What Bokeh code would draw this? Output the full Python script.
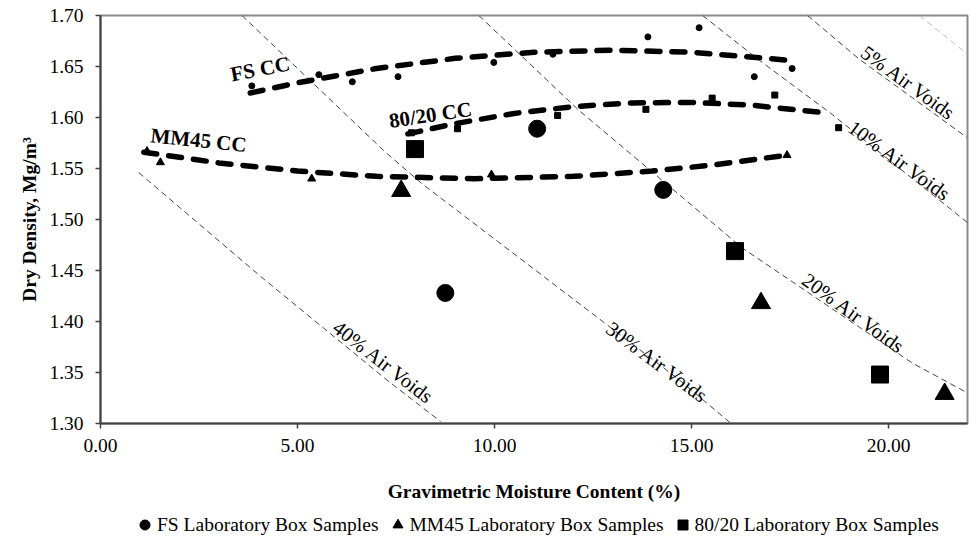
from bokeh.plotting import figure
from bokeh.layouts import column
from bokeh.models import Range1d, FixedTicker, NumeralTickFormatter, Legend, LegendItem
from bokeh.core.properties import value
from bokeh.embed import file_html
from bokeh.resources import INLINE

FONT = "Liberation Serif"

# ---------------- data ----------------
x_ticks = [0, 5, 10, 15, 20]
y_ticks = [1.30, 1.35, 1.40, 1.45, 1.50, 1.55, 1.60, 1.65, 1.70]

legend_labels = ["FS Laboratory Box Samples", "MM45 Laboratory Box Samples", "80/20 Laboratory Box Samples"]

# laboratory box samples
fs_box_w = [8.75, 11.08, 14.28]
fs_box_d = [1.428, 1.589, 1.529]
mm45_box_w = [7.63, 16.76, 21.42]
mm45_box_d = [1.528, 1.418, 1.329]
r8020_box_w = [7.98, 16.10, 19.78]
r8020_box_d = [1.569, 1.469, 1.348]

# compaction curve test points
fs_cc_w = [3.84, 5.54, 6.39, 7.55, 9.98, 11.48, 13.89, 15.19, 16.59, 17.55]
fs_cc_d = [1.631, 1.642, 1.635, 1.640, 1.654, 1.662, 1.679, 1.688, 1.640, 1.648]
mm45_cc_w = [1.18, 1.52, 5.36, 9.92, 17.42]
mm45_cc_d = [1.567, 1.556, 1.540, 1.544, 1.563]
r8020_cc_w = [7.89, 9.06, 11.60, 13.84, 15.52, 17.11, 18.73]
r8020_cc_d = [1.585, 1.589, 1.602, 1.608, 1.619, 1.622, 1.590]

# compaction curves (trend lines)
fs_curve_w = [3.8, 5.0, 7.0, 9.0, 11.0, 13.0, 15.0, 17.5]
fs_curve_d = [1.624, 1.634, 1.648, 1.658, 1.664, 1.666, 1.664, 1.656]
mm45_curve_w = [1.1, 3.0, 5.0, 7.0, 9.5, 12.0, 14.0, 15.5, 17.4]
mm45_curve_d = [1.566, 1.5555, 1.5475, 1.5423, 1.540, 1.5423, 1.5475, 1.5532, 1.563]
r8020_curve_w = [7.8, 9.0, 10.5, 12.0, 13.5, 15.0, 16.5, 18.4]
r8020_curve_d = [1.584, 1.594, 1.604, 1.6107, 1.6143, 1.6148, 1.6122, 1.6045]

# air voids lines
av0_w = [20.78, 22.0]
av0_d = [1.700, 1.662]
av5_w = [17.94, 19.26, 22.0]
av5_d = [1.700, 1.657, 1.580]
av10_w = [15.28, 16.72, 18.50, 22.0]
av10_d = [1.700, 1.656, 1.605, 1.497]
av20_w = [9.60, 12.14, 14.51, 16.29, 20.61, 22.0]
av20_d = [1.700, 1.607, 1.530, 1.472, 1.359, 1.330]
av30_w = [3.59, 7.23, 8.16, 14.68, 16.0]
av30_d = [1.700, 1.566, 1.535, 1.343, 1.300]
av40_w = [0.97, 4.10, 7.32, 8.63]
av40_d = [1.546, 1.443, 1.341, 1.302]

av_labels = ["5% Air Voids", "10% Air Voids", "20% Air Voids", "30% Air Voids", "40% Air Voids"]
cc_labels = ["FS CC", "MM45 CC", "80/20 CC"]

# ---------------- main figure ----------------
p = figure(width=972, height=510, output_backend="svg", toolbar_location=None,
           x_range=Range1d(0, 22), y_range=Range1d(1.30, 1.70))
p.min_border_left = 100
p.min_border_top = 15
p.min_border_right = 5
p.min_border_bottom = 87
p.background_fill_color = "white"
p.border_fill_color = "white"
p.outline_line_color = "#8a8a8a"
p.outline_line_width = 2
p.xgrid.visible = False
p.ygrid.visible = False

for ax in (p.xaxis, p.yaxis):
    ax.major_label_text_font = FONT
    ax.major_label_text_font_size = "19.5px"
    ax.major_label_text_color = "black"
    ax.axis_label_text_font = FONT
    ax.axis_label_text_font_size = "19.5px"
    ax.axis_label_text_font_style = "bold"
    ax.axis_label_text_color = "black"
    ax.axis_line_color = "#404040"
    ax.axis_line_width = 2
    ax.major_tick_line_color = "#404040"
    ax.major_tick_line_width = 1.5
    ax.major_tick_in = 0
    ax.major_tick_out = 5
    ax.minor_tick_line_color = None
    ax.formatter = NumeralTickFormatter(format="0.00")

p.xaxis.ticker = FixedTicker(ticks=x_ticks)
p.yaxis.ticker = FixedTicker(ticks=y_ticks)
p.xaxis.axis_label = "Gravimetric Moisture Content (%)"
p.yaxis.axis_label = "Dry Density, Mg/m\u00b3"
p.xaxis.major_label_standoff = 10
p.xaxis.axis_label_standoff = 26
p.yaxis.major_label_standoff = 12
p.yaxis.axis_label_standoff = 6

# air voids lines
p.line(av0_w, av0_d, line_color="#bdbdbd", line_width=1, line_dash="6 4")
for w, d in [(av5_w, av5_d), (av10_w, av10_d), (av20_w, av20_d), (av30_w, av30_d), (av40_w, av40_d)]:
    p.line(w, d, line_color="#444444", line_width=1, line_dash="6 4")

# compaction curves
for w, d in [(fs_curve_w, fs_curve_d), (mm45_curve_w, mm45_curve_d), (r8020_curve_w, r8020_curve_d)]:
    p.line(w, d, line_color="black", line_width=5.5, line_dash="13 12", line_cap="round")

# compaction test points
p.scatter(fs_cc_w, fs_cc_d, marker="circle", size=6, color="black")
p.scatter(mm45_cc_w, mm45_cc_d, marker="triangle", size=8, color="black")
p.scatter(r8020_cc_w, r8020_cc_d, marker="square", size=6, color="black")

# laboratory box samples
p.scatter(fs_box_w, fs_box_d, marker="circle", size=17, color="black")
p.scatter(mm45_box_w, mm45_box_d, marker="triangle", size=19, color="black")
p.scatter(r8020_box_w, r8020_box_d, marker="square", size=17, color="black")

# air voids labels
p.text(x=[20.50, 20.28, 19.11, 14.13, 7.18], y=[1.634, 1.5575, 1.408, 1.360, 1.360],
       text=av_labels, angle=[-0.63, -0.63, -0.63, -0.64, -0.66],
       text_font=value(FONT), text_font_size="20.5px", text_color="black",
       text_align="center", text_baseline="middle")

# compaction curve labels
p.text(x=[4.05, 2.49, 8.37], y=[1.6476, 1.5778, 1.6025], text=cc_labels,
       angle=[0.19, -0.10, 0.15],
       text_font=value(FONT), text_font_size="21px", text_font_style="bold",
       text_color="black", text_align="center", text_baseline="middle")

# ---------------- legend strip ----------------
# same series, drawn in a strip whose ranges hide the points, so only the legend shows
lg = figure(width=972, height=28, output_backend="svg", toolbar_location=None,
            x_range=Range1d(-1, 0), y_range=Range1d(-1, 0),
            x_axis_location=None, y_axis_location=None)
lg.min_border = 0
lg.outline_line_color = None
lg.background_fill_color = "white"
lg.border_fill_color = "white"
lg.xgrid.visible = False
lg.ygrid.visible = False
g_fs = lg.scatter(fs_box_w, fs_box_d, marker="circle", size=17, color="black")
g_mm = lg.scatter(mm45_box_w, mm45_box_d, marker="triangle", size=19, color="black")
g_80 = lg.scatter(r8020_box_w, r8020_box_d, marker="square", size=17, color="black")

legend = Legend(items=[LegendItem(label=legend_labels[0], renderers=[g_fs]),
                       LegendItem(label=legend_labels[1], renderers=[g_mm]),
                       LegendItem(label=legend_labels[2], renderers=[g_80])],
                orientation="horizontal", location=(32, 1),
                glyph_width=25, glyph_height=25, label_standoff=0, spacing=6,
                padding=0, margin=0, border_line_color=None, background_fill_alpha=0,
                label_text_font=FONT, label_text_font_size="19.5px", label_text_color="black")
lg.add_layout(legend, "center")

layout = column(p, lg, spacing=0)
open("out.html", "w").write(file_html(layout, INLINE))
